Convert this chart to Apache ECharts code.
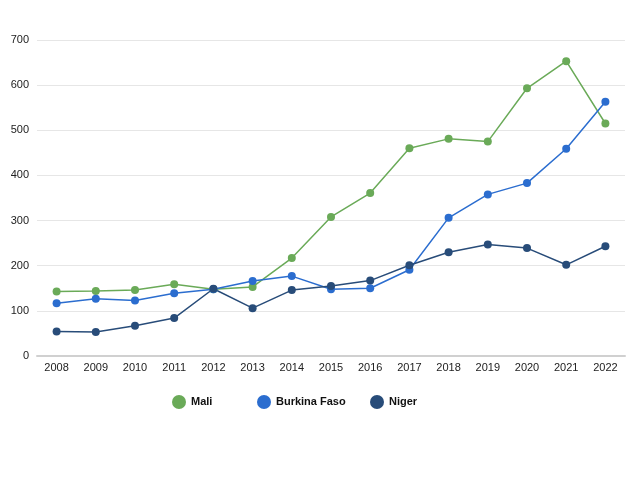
<!DOCTYPE html>
<html><head><meta charset="utf-8">
<script src="https://cdn.jsdelivr.net/npm/echarts@6/dist/echarts.min.js"></script>
<style>html,body{margin:0;padding:0;background:#fff}#c{width:641px;height:481px}</style>
</head><body><div id="c"></div>
<script>
const years = ['2008','2009','2010','2011','2012','2013','2014','2015','2016','2017','2018','2019','2020','2021','2022'];
const mali = [143,144,146,159,148,153,217,308,361,460,481,475,593,653,515];
const burkina = [117,127,123,139,148,166,177,148,150,191,306,358,383,459,563];
const niger = [54,53,67,84,149,106,146,155,167,201,230,247,239,202,243];
const yTicks = [0,100,200,300,400,500,600,700];

const chart = echarts.init(document.getElementById('c'));
const font = 'Liberation Sans, Arial, sans-serif';
function s(name, data, color){
  return {name, type:'line', data, color, symbol:'circle', symbolSize:8,
    lineStyle:{width:1.5,color}, itemStyle:{color}};
}
function lg(name, left){
  return {top:390,left,icon:'circle',itemWidth:14,itemHeight:14,itemGap:5,
    textStyle:{fontFamily:font,fontWeight:'bold',fontSize:11,color:'#111'},
    data:[name]};
}
chart.setOption({
  animation:false,
  grid:{left:37,right:16,top:40,bottom:125},
  legend:[lg('Mali',167),lg('Burkina Faso',252),lg('Niger',365)],
  xAxis:{type:'category',data:years,boundaryGap:true,
    axisLine:{lineStyle:{color:'#d0d0d0',width:2}},axisTick:{show:false},
    axisLabel:{fontFamily:font,fontSize:11,color:'#222',margin:6}},
  yAxis:{type:'value',min:0,max:700,interval:100,
    axisLabel:{fontFamily:font,fontSize:11,color:'#222',margin:8,
      formatter:v=>yTicks.includes(v)?String(v):''},
    splitLine:{lineStyle:{color:'#e6e6e6',width:1}},axisLine:{show:false},axisTick:{show:false}},
  series:[s('Mali',mali,'#6aaa58'),s('Burkina Faso',burkina,'#2b6dcf'),s('Niger',niger,'#284c79')]
});
</script></body></html>
